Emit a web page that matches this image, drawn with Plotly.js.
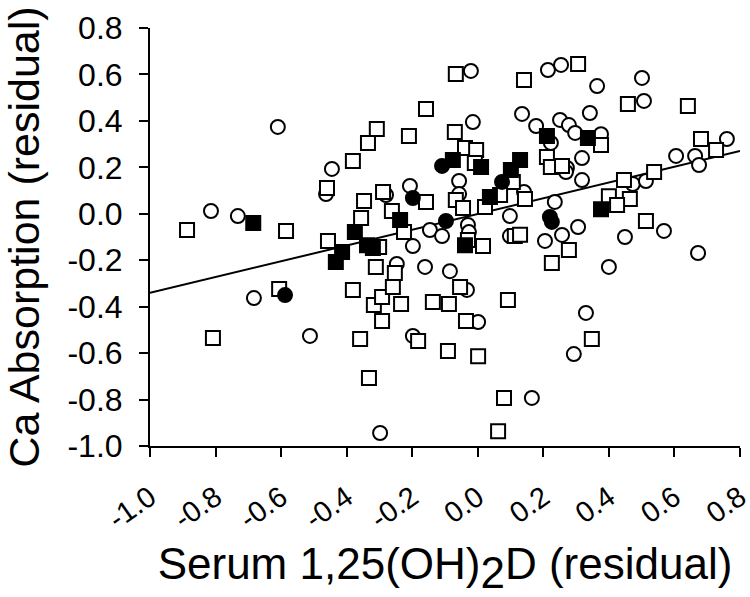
<!DOCTYPE html>
<html>
<head>
<meta charset="utf-8">
<script src="https://cdn.plot.ly/plotly-3.0.1.min.js"></script>
<style>html,body{margin:0;padding:0;background:#fff;}#chart{width:750px;height:597px;}</style>
</head>
<body>
<div id="chart"></div>
<script>
// Open squares
const openSqX = [-0.887,-0.808,-0.585,-0.457,-0.606,-0.460,-0.381,-0.335,-0.308,-0.210,-0.158,-0.067,-0.070,-0.039,-0.005,-0.009,0.141,0.306,0.458,0.641,0.376,0.211,0.223,0.257,0.538,0.681,0.727,0.446,0.400,0.464,0.425,0.513,0.144,0.278,0.226,0.348,0.080,0.062,-0.332,-0.359,-0.182,-0.091,0.001,-0.036,-0.292,-0.317,-0.234,-0.137,-0.088,0.092,-0.289,-0.347,-0.262,-0.356,-0.158,0.107,0.068,-0.067,-0.045,0.022,0.113,-0.225,0.016,-0.301,-0.311,-0.253,-0.054,-0.381,-0.292,-0.259,-0.030,0.129];
const openSqY = [-0.070,-0.535,-0.074,-0.117,-0.324,0.111,0.227,0.305,0.365,0.335,0.451,0.602,0.352,0.283,0.275,0.219,0.576,0.645,0.473,0.464,0.296,0.244,0.201,0.206,0.180,0.322,0.275,0.145,0.076,0.064,0.038,-0.031,0.064,-0.156,-0.212,-0.539,-0.793,-0.936,-0.707,-0.539,-0.548,-0.591,-0.613,-0.462,-0.462,-0.393,-0.389,-0.380,-0.389,-0.371,0.094,0.055,0.012,-0.018,0.051,0.137,0.081,0.059,0.025,0.029,-0.096,-0.079,-0.139,-0.143,-0.229,-0.255,-0.315,-0.328,-0.358,-0.315,-0.113,-0.090];

// Open circles
const openCirX = [-0.814,-0.732,-0.445,-0.463,-0.683,-0.610,-0.512,-0.021,-0.015,0.135,0.214,0.254,0.364,0.501,0.507,0.342,0.178,0.251,0.278,0.297,0.376,0.223,0.318,0.272,0.605,0.663,0.760,0.675,0.269,0.318,0.141,0.235,0.306,0.257,0.205,0.400,0.449,0.568,0.672,0.330,0.293,0.165,0.473,0.513,-0.298,-0.198,0.001,-0.207,-0.280,-0.057,-0.057,0.098,0.098,-0.146,-0.109,-0.030,-0.027,-0.198,-0.247,-0.161,-0.085,-0.033];
const openCirY = [0.012,-0.010,0.193,0.085,-0.363,0.374,-0.526,0.615,0.395,0.430,0.619,0.641,0.550,0.585,0.486,0.434,0.378,0.404,0.382,0.348,0.343,0.305,0.240,0.197,0.249,0.249,0.322,0.210,0.180,0.145,0.094,0.051,-0.057,-0.091,-0.117,-0.229,-0.100,-0.074,-0.169,-0.427,-0.604,-0.793,0.128,0.141,-0.944,-0.526,-0.466,0.120,0.081,0.141,0.085,-0.010,-0.096,-0.070,-0.096,-0.048,-0.079,-0.139,-0.216,-0.229,-0.247,-0.328];

// Filled squares
const fillSqX = [-0.685,-0.433,-0.414,-0.375,-0.338,-0.320,-0.237,-0.076,0.010,-0.039,0.037,0.101,0.129,0.211,0.336,0.376];
const fillSqY = [-0.040,-0.208,-0.165,-0.079,-0.135,-0.147,-0.027,0.232,0.201,-0.135,0.072,0.188,0.232,0.335,0.326,0.020];

// Filled circles
const fillCirX = [-0.588,-0.198,-0.109,-0.097,0.074,0.220,0.226];
const fillCirY = [-0.350,0.068,0.206,-0.031,0.137,-0.014,-0.035];

// Regression line end points
const fitX = [-1.0, 0.8];
const fitY = [-0.34, 0.27];

const tickVals = [-1.0,-0.8,-0.6,-0.4,-0.2,0.0,0.2,0.4,0.6,0.8];
const tickText = ["-1.0","-0.8","-0.6","-0.4","-0.2","0.0","0.2","0.4","0.6","0.8"];

const FONT = "Arial, 'Liberation Sans', sans-serif";
const mk = (sym, fill) => ({symbol: sym, size: 14, color: fill, line: {color: '#000', width: 2}});

const traces = [
  {x: fitX, y: fitY, mode: 'lines', line: {color: '#000', width: 2}, hoverinfo: 'skip'},
  {x: openCirX, y: openCirY, mode: 'markers', marker: mk('circle', '#fff')},
  {x: openSqX, y: openSqY, mode: 'markers', marker: mk('square', '#fff')},
  {x: fillSqX, y: fillSqY, mode: 'markers', marker: mk('square', '#000')},
  {x: fillCirX, y: fillCirY, mode: 'markers', marker: mk('circle', '#000')}
];

const axisCommon = {
  range: [-1.0, 0.8], tickvals: tickVals, ticktext: tickText,
  showgrid: false, zeroline: false, showline: true, linecolor: '#000', linewidth: 2,
  ticks: 'outside', ticklen: 9, tickwidth: 2, tickcolor: '#000',
  tickfont: {family: FONT, size: 32, color: '#000'}, automargin: false, fixedrange: true,
  ticklabeloverflow: 'allow'
};

const layout = {
  width: 750, height: 597,
  margin: {l: 150, r: 10, t: 28, b: 151},
  paper_bgcolor: '#fff', plot_bgcolor: '#fff',
  showlegend: false,
  font: {family: FONT, color: '#000'},
  xaxis: Object.assign({}, axisCommon, {
    tickangle: -35,
    ticklabelstandoff: 12,
    tickfont: {family: FONT, size: 29, color: '#000'},
    title: {text: 'Serum 1,25(OH)<sub><span style="font-size:44px">2</span></sub>D (residual)', font: {family: FONT, size: 44, color: '#000'}, standoff: 22}
  }),
  yaxis: Object.assign({}, axisCommon, {
    ticklabelstandoff: 10,
    title: {text: 'Ca Absorption (residual)', font: {family: FONT, size: 43, color: '#000'}, standoff: 16}
  })
};

Plotly.newPlot('chart', traces, layout, {displayModeBar: false, staticPlot: true});
</script>
</body>
</html>
